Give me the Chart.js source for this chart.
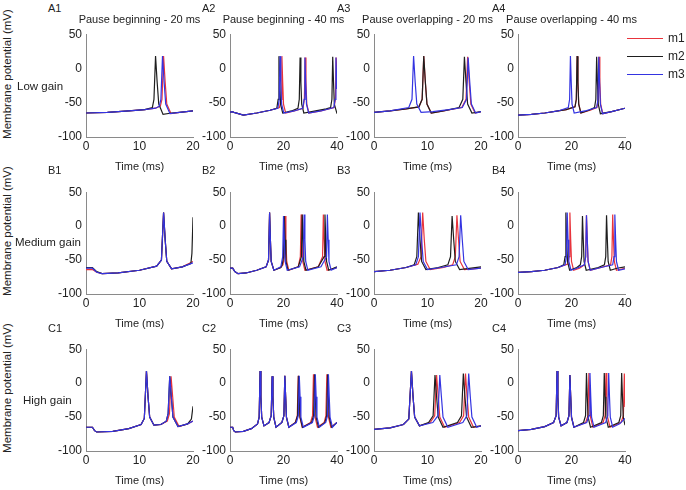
<!DOCTYPE html>
<html>
<head>
<meta charset="utf-8">
<script src="https://cdn.jsdelivr.net/npm/chart.js@4.4.1/dist/chart.umd.min.js"></script>
<style>
  body { margin: 0; background: #fff; }
  #fig { position: relative; width: 686px; height: 490px; font-family: "Liberation Sans", Arial, sans-serif; color: #222; }
  #fig canvas { position: absolute; }
  .txt { position: absolute; white-space: nowrap; font-size: 11px; line-height: 1; }
  .ctr { transform: translate(-50%, -50%); }
  .ylab { transform: translate(-50%, -50%) rotate(-90deg); font-size: 11.5px; }
  .leg { position: absolute; height: 0; border-top: 1px solid; width: 36px; }
</style>
</head>
<body>
<div id="fig"></div>
<script>
// membrane potential traces, [time ms, mV]
var a1_m1 = [[0,-65],[4,-64],[8,-62],[11,-60],[13,-58],[13.9,-55],[14.2,-45],[14.5,18],[14.8,-20],[15.1,-52],[15.9,-66],[17.5,-64],[20,-62]];
var a1_m2 = [[0,-65],[4,-64],[8,-62],[11,-60],[12.4,-57],[12.7,-45],[13.0,18],[13.3,-20],[13.6,-52],[14.4,-67],[16,-65],[17.5,-64],[20,-62]];
var a1_m3 = [[0,-65],[4,-64],[8,-62],[11,-60],[13,-58],[13.7,-55],[14.0,-45],[14.3,18],[14.6,-20],[14.9,-52],[15.7,-66],[17.5,-64],[20,-62]];

var a2_m1 = [[0,-64],[0.7,-63],[1.5,-64],[5,-68],[10,-65],[15,-61],[18.5,-57],[19.1,-45],[19.4,18],[19.7,-20],[20.0,-52],[20.8,-65],[24,-62],[27.3,-58],[27.8,-45],[28.1,16],[28.4,-20],[28.7,-52],[29.5,-65],[34,-62],[38.9,-57],[39.4,-45],[39.7,16],[40,-20]];
var a2_m2 = [[0,-64],[0.7,-63],[1.5,-64],[5,-68],[10,-65],[15,-61],[17.5,-58],[18.0,-45],[18.3,18],[18.6,-20],[18.9,-52],[19.7,-65],[23,-62],[25.4,-58],[25.9,-45],[26.2,16],[26.5,-20],[26.8,-52],[27.6,-65],[32,-62],[36,-59],[37.6,-57],[38.1,-45],[38.4,17],[38.7,-20],[39.0,-52],[40,-66]];
var a2_m3 = [[0,-64],[0.7,-63],[1.5,-64],[5,-68],[10,-65],[15,-61],[17.9,-58],[18.4,-45],[18.7,18],[19.0,-20],[19.3,-52],[20.1,-65],[24,-62],[27.2,-58],[27.7,-45],[28.0,16],[28.3,-20],[28.6,-52],[29.4,-65],[34,-62],[38.8,-57],[39.3,-45],[39.6,16],[39.9,-20],[40,-30]];

var a3_m1 = [[0,-64],[3,-62],[6,-59],[8.4,-56],[9.0,-45],[9.3,18],[9.6,-20],[9.9,-52],[10.7,-65],[13,-62],[16.4,-57],[17.2,-45],[17.5,17],[17.8,-20],[18.1,-52],[18.9,-65],[20,-63]];
var a3_m2 = [[0,-64],[3,-62],[6,-59],[8.4,-56],[9.0,-45],[9.3,18],[9.6,-20],[9.9,-52],[10.7,-65],[13,-62],[15.9,-57],[16.6,-45],[16.9,17],[17.2,-20],[17.5,-52],[18.3,-65],[20,-63]];
var a3_m3 = [[0,-64],[3,-62],[6.5,-57],[7.1,-45],[7.4,18],[7.7,-20],[8.0,-52],[8.8,-64],[11,-63],[14,-60],[16.5,-57],[17.3,-45],[17.6,16],[17.9,-20],[18.2,-52],[19,-65],[20,-63]];

var a4_m1 = [[0,-68],[5,-67],[10,-65],[15,-62],[18,-60],[21.3,-56],[21.8,-45],[22.1,18],[22.4,-20],[22.7,-52],[23.5,-65],[27,-61],[29.5,-57],[30.0,-45],[30.3,17],[30.6,-20],[30.9,-52],[31.7,-66],[35,-63],[40,-58]];
var a4_m2 = [[0,-68],[5,-67],[10,-65],[15,-62],[18,-60],[21.3,-56],[21.8,-45],[22.1,18],[22.4,-20],[22.7,-52],[23.5,-65],[26.5,-61],[28.6,-57],[29.1,-45],[29.4,17],[29.7,-20],[30.0,-52],[30.8,-66],[35,-63],[40,-58]];
var a4_m3 = [[0,-68],[5,-67],[10,-65],[15,-62],[18.8,-57],[19.3,-45],[19.6,18],[19.9,-20],[20.2,-52],[21,-65],[25,-62],[29.4,-57],[29.9,-45],[30.2,17],[30.5,-20],[30.8,-52],[31.6,-66],[35,-63],[40,-58]];

var b1_m1 = [[0,-64],[1.2,-64],[2,-68],[3,-70],[6,-69],[10,-65],[13.2,-59],[14.1,-50],[14.5,20],[14.8,-20],[15.1,-52],[16,-63],[18,-60],[20,-52]];
var b1_m2 = [[0,-61],[1.2,-61],[2,-67],[3,-70],[6,-69],[10,-65],[13.2,-59],[14.1,-50],[14.5,20],[14.8,-20],[15.1,-52],[16,-63],[18,-60],[19.6,-55],[19.8,-40],[20,13]];
var b1_m3 = [[0,-62],[1.2,-62],[2,-68],[3,-70],[6,-69],[10,-65],[13.2,-59],[14.1,-50],[14.5,20],[14.8,-20],[15.1,-52],[16,-63],[18,-60],[20,-54]];

var b2_m1 = [[0,-62],[1,-62],[1.8,-67],[3,-70],[6,-69],[10,-65],[13.5,-60],[14.4,-50],[14.8,20],[15.1,-20],[15.4,-52],[16.4,-65],[19,-61],[19.8,-57],[20.3,-45],[20.6,15],[20.9,-20],[21.2,-52],[22,-65],[25.5,-60],[26.3,-45],[26.6,17],[26.9,-20],[27.2,-52],[28,-65],[33,-60],[34.6,-45],[34.9,17],[35.2,-20],[35.5,-52],[36.3,-65],[40,-61]];
var b2_m2 = [[0,-62],[1,-62],[1.8,-67],[3,-70],[6,-69],[10,-65],[13.5,-60],[14.4,-50],[14.8,20],[15.1,-20],[15.4,-52],[16.4,-65],[19,-61],[19.5,-57],[20.0,-45],[20.3,15],[20.6,-20],[20.9,-52],[21.7,-65],[25.5,-60],[26.7,-45],[27.0,17],[27.3,-20],[27.6,-52],[28.4,-65],[33,-60],[35.2,-45],[35.5,17],[35.8,-20],[36.1,-52],[36.9,-65],[40,-60]];
var b2_m3 = [[0,-62],[1,-62],[1.8,-67],[3,-70],[6,-69],[10,-65],[13.5,-60],[14.4,-50],[14.8,20],[15.1,-20],[15.4,-52],[16.4,-65],[19,-60],[19.7,-45],[20.0,15],[20.3,-20],[20.6,-52],[21.4,-65],[26,-60],[27.4,-45],[27.7,17],[28.0,-20],[28.3,-52],[29.1,-65],[34,-60],[36.1,-45],[36.4,17],[36.7,-20],[37.0,-52],[37.8,-65],[40,-61]];

var b3_m1 = [[0,-67],[3,-65],[6,-61],[8.2,-56],[8.8,-45],[9.1,20],[9.4,-20],[9.7,-52],[10.5,-64],[13,-61],[14.7,-57],[15.2,-45],[15.5,16],[15.8,-20],[16.1,-52],[16.9,-64],[20,-62]];
var b3_m2 = [[0,-67],[3,-65],[6,-61],[7.5,-57],[8.0,-45],[8.3,20],[8.6,-20],[8.9,-52],[9.7,-64],[12,-61],[13.8,-57],[14.3,-45],[14.6,15],[14.9,-20],[15.2,-52],[16,-64],[20,-60]];
var b3_m3 = [[0,-67],[3,-65],[6,-61],[7.8,-57],[8.3,-45],[8.6,20],[8.9,-20],[9.2,-52],[10,-64],[12.5,-61],[15.4,-57],[15.9,-45],[16.2,16],[16.5,-20],[16.8,-52],[17.6,-64],[20,-62]];

var b4_m1 = [[0,-68],[5,-67],[10,-65],[15,-61],[18.6,-56],[19.1,-45],[19.4,20],[19.7,-20],[20,-52],[20.8,-65],[23,-62],[24.8,-57],[25.3,-45],[25.6,16],[25.9,-20],[26.2,-52],[27,-65],[31,-61],[34.6,-57],[35.1,-45],[35.4,17],[35.7,-20],[36,-52],[36.8,-65],[40,-62]];
var b4_m2 = [[0,-68],[5,-67],[10,-65],[15,-61],[17.1,-57],[17.6,-45],[17.9,20],[18.2,-20],[18.5,-52],[19.3,-65],[22,-61],[23.3,-57],[23.8,-45],[24.1,15],[24.4,-20],[24.7,-52],[25.5,-65],[30,-61],[32.3,-57],[32.8,-45],[33.1,16],[33.4,-20],[33.7,-52],[34.5,-65],[37,-62],[40,-60]];
var b4_m3 = [[0,-68],[5,-67],[10,-65],[15,-61],[17.6,-57],[18.1,-45],[18.4,20],[18.7,-20],[19,-52],[19.8,-65],[22,-62],[24.8,-57],[25.3,-45],[25.6,16],[25.9,-20],[26.2,-52],[27,-65],[31,-61],[35.4,-57],[35.9,-45],[36.2,17],[36.5,-20],[36.8,-52],[37.6,-65],[40,-63]];

var c1_m1 = [[0,-65],[1.2,-65],[1.6,-70],[2,-72],[5,-71],[8,-67],[10.3,-61],[10.9,-52],[11.3,18],[11.6,-20],[11.9,-50],[12.7,-62],[14,-61],[15.2,-56],[15.6,-45],[15.9,10],[16.2,-20],[16.5,-50],[17.4,-64],[19,-60],[20,-56]];
var c1_m2 = [[0,-65],[1.2,-65],[1.6,-70],[2,-72],[5,-71],[8,-67],[10.3,-61],[10.9,-52],[11.3,18],[11.6,-20],[11.9,-50],[12.7,-62],[14,-61],[15.0,-56],[15.35,-45],[15.65,10],[15.95,-20],[16.25,-50],[17.2,-64],[19,-60],[19.7,-53],[20,-34]];
var c1_m3 = [[0,-65],[1.2,-65],[1.6,-70],[2,-72],[5,-71],[8,-67],[10.3,-61],[10.9,-52],[11.3,18],[11.6,-20],[11.9,-50],[12.7,-62],[14,-61],[15.0,-56],[15.35,-45],[15.65,10],[15.95,-20],[16.25,-50],[17.2,-64],[19,-60],[20,-56]];

var c2_m1 = [[0,-65],[1,-65],[1.4,-70],[2,-72],[5,-71],[8,-67],[10.3,-60],[10.9,-50],[11.25,18],[11.55,-20],[11.85,-50],[12.7,-63],[14.6,-58],[15.4,-48],[15.75,10],[16.05,-20],[16.35,-50],[17.2,-65],[19.4,-58],[20.15,-48],[20.5,11],[20.8,-20],[21.1,-50],[22,-65],[24.4,-58],[25.15,-48],[25.5,11],[25.8,-20],[26.1,-50],[27,-65],[30.1,-58],[30.85,-48],[31.2,13],[31.5,-20],[31.8,-50],[32.7,-65],[35.2,-58],[35.85,-48],[36.2,13],[36.5,-20],[36.8,-50],[37.7,-65],[40,-58]];
var c2_m2 = [[0,-65],[1,-65],[1.4,-70],[2,-72],[5,-71],[8,-67],[10.3,-60],[10.9,-50],[11.25,18],[11.55,-20],[11.85,-50],[12.7,-63],[14.6,-58],[15.4,-48],[15.75,10],[16.05,-20],[16.35,-50],[17.2,-65],[19.4,-58],[20.15,-48],[20.5,11],[20.8,-20],[21.1,-50],[22,-65],[24.5,-58],[25.25,-48],[25.6,11],[25.9,-20],[26.2,-50],[27.1,-65],[30.5,-58],[31.25,-48],[31.6,13],[31.9,-20],[32.2,-50],[33.1,-65],[35.5,-58],[36.15,-48],[36.5,13],[36.8,-20],[37.1,-50],[38,-65],[40,-58]];
var c2_m3 = [[0,-65],[1,-65],[1.4,-70],[2,-72],[5,-71],[8,-67],[10.3,-60],[10.9,-50],[11.25,18],[11.55,-20],[11.85,-50],[12.7,-63],[14.6,-58],[15.4,-48],[15.75,10],[16.05,-20],[16.35,-50],[17.2,-65],[19.4,-58],[20.15,-48],[20.5,11],[20.8,-20],[21.1,-50],[22,-65],[24.8,-58],[25.55,-48],[25.9,11],[26.2,-20],[26.5,-50],[27.4,-65],[30.8,-58],[31.55,-48],[31.9,13],[32.2,-20],[32.5,-50],[33.4,-65],[35.8,-58],[36.45,-48],[36.8,13],[37.1,-20],[37.4,-50],[38.3,-65],[40,-58]];

var c3_m1 = [[0,-68],[3,-66],[5.5,-61],[6.5,-53],[7.0,18],[7.3,-20],[7.6,-50],[8.5,-63],[10.5,-58],[11.35,-48],[11.7,12],[12.0,-20],[12.3,-50],[13.2,-65],[16.0,-58],[16.75,-48],[17.1,14],[17.4,-20],[17.7,-50],[18.6,-65],[20,-63]];
var c3_m2 = [[0,-68],[3,-66],[5.5,-61],[6.5,-53],[7.0,18],[7.3,-20],[7.6,-50],[8.5,-63],[10.2,-58],[11.05,-48],[11.4,12],[11.7,-20],[12,-50],[12.9,-65],[15.6,-58],[16.35,-48],[16.7,14],[17.0,-20],[17.3,-50],[18.2,-65],[20,-63]];
var c3_m3 = [[0,-68],[3,-66],[5.5,-61],[6.5,-53],[7.0,18],[7.3,-20],[7.6,-50],[8.5,-63],[11.0,-58],[11.95,-48],[12.3,12],[12.6,-20],[12.9,-50],[13.8,-65],[16.6,-58],[17.35,-48],[17.7,14],[18.0,-20],[18.3,-50],[19.2,-65],[20,-63]];

var c4_m1 = [[0,-70],[5,-68],[10,-64],[13.3,-58],[14.25,-48],[14.6,18],[14.9,-20],[15.2,-50],[16.1,-63],[18.3,-58],[19.05,-48],[19.4,12],[19.7,-20],[20,-50],[20.9,-65],[25.3,-58],[26.15,-48],[26.5,15],[26.8,-20],[27.1,-50],[28,-65],[31.8,-58],[32.55,-48],[32.9,15],[33.2,-20],[33.5,-50],[34.4,-65],[38.5,-58],[39.4,-48],[39.75,14],[40,-35]];
var c4_m2 = [[0,-70],[5,-68],[10,-64],[13.3,-58],[14.25,-48],[14.6,18],[14.9,-20],[15.2,-50],[16.1,-63],[18.3,-58],[19.05,-48],[19.4,12],[19.7,-20],[20,-50],[20.9,-65],[24.5,-58],[25.25,-48],[25.6,15],[25.9,-20],[26.2,-50],[27.1,-65],[31.2,-58],[31.9,-48],[32.25,15],[32.55,-20],[32.85,-50],[33.75,-65],[37.7,-58],[38.4,-48],[38.75,15],[39.05,-20],[39.35,-50],[40,-62]];
var c4_m3 = [[0,-70],[5,-68],[10,-64],[13.3,-58],[14.25,-48],[14.6,18],[14.9,-20],[15.2,-50],[16.1,-63],[18.3,-58],[19.05,-48],[19.4,12],[19.7,-20],[20,-50],[20.9,-65],[25.7,-58],[26.55,-48],[26.9,15],[27.2,-20],[27.5,-50],[28.4,-65],[32.8,-58],[33.55,-48],[33.9,15],[34.2,-20],[34.5,-50],[35.4,-65],[38,-60],[40,-52]];

var seriesNames = ['m1', 'm2', 'm3'];
var seriesColors = ['rgb(232,52,60)', 'rgb(30,30,30)', 'rgb(52,52,225)'];
var colTitles = ['Pause beginning - 20 ms', 'Pause beginning - 40 ms', 'Pause overlapping - 20 ms', 'Pause overlapping - 40 ms'];
var rowNames = ['Low gain', 'Medium gain', 'High gain'];
var colMax = [20, 40, 20, 40];
var traces = [
  [[a1_m1, a1_m2, a1_m3], [a2_m1, a2_m2, a2_m3], [a3_m1, a3_m2, a3_m3], [a4_m1, a4_m2, a4_m3]],
  [[b1_m1, b1_m2, b1_m3], [b2_m1, b2_m2, b2_m3], [b3_m1, b3_m2, b3_m3], [b4_m1, b4_m2, b4_m3]],
  [[c1_m1, c1_m2, c1_m3], [c2_m1, c2_m2, c2_m3], [c3_m1, c3_m2, c3_m3], [c4_m1, c4_m2, c4_m3]]
];

// layout (plot areas in page pixels)
var plotLeft = [86, 230, 374, 518];
var plotTop = [33, 191, 348];
var plotH = [104, 103, 103];
var plotW = 107;
var padL = 40, padT = 10, padR = 12, padB = 39;
var AXIS = '#8a8a8a', TXT = '#222';

Chart.defaults.font.family = '"Liberation Sans", Arial, sans-serif';

var fig = document.getElementById('fig');

function addText(str, x, y, cls, extra) {
  var d = document.createElement('div');
  d.className = 'txt ' + (cls || '');
  d.textContent = str;
  d.style.left = x + 'px';
  d.style.top = y + 'px';
  if (extra) Object.assign(d.style, extra);
  fig.appendChild(d);
  return d;
}

for (var r = 0; r < 3; r++) {
  for (var c = 0; c < 4; c++) {
    var cv = document.createElement('canvas');
    var w = padL + plotW + padR, h = padT + plotH[r] + padB;
    cv.width = w; cv.height = h;
    cv.style.left = (plotLeft[c] - padL) + 'px';
    cv.style.top = (plotTop[r] - padT) + 'px';
    cv.style.width = w + 'px'; cv.style.height = h + 'px';
    fig.appendChild(cv);

    var sets = traces[r][c].map(function (d, i) {
      return { label: seriesNames[i], data: d, borderColor: seriesColors[i], order: 3 - i };
    });
    new Chart(cv.getContext('2d'), {
      type: 'line',
      data: { datasets: sets },
      options: {
        responsive: false,
        animation: false,
        events: [],
        layout: { padding: { top: padT, right: padR, left: 0, bottom: 0 } },
        plugins: { legend: { display: false }, tooltip: { enabled: false } },
        elements: { point: { radius: 0 }, line: { borderWidth: 1.2, tension: 0 } },
        scales: {
          x: {
            type: 'linear', min: 0, max: colMax[c],
            grid: { display: false, drawTicks: false },
            border: { color: AXIS },
            ticks: { stepSize: colMax[c] / 2, padding: 2, maxRotation: 0, autoSkip: false, color: TXT, font: { size: 12 } },
            title: { display: true, text: 'Time (ms)', color: TXT, font: { size: 11 }, padding: { top: 0, bottom: 2 } },
            afterFit: function (s) { s.height = padB; }
          },
          y: {
            min: -100, max: 50,
            grid: { display: false, drawTicks: false },
            border: { color: AXIS },
            ticks: { stepSize: 50, padding: 4, color: TXT, font: { size: 12 } },
            afterFit: function (s) { s.width = padL; }
          }
        }
      }
    });
  }
}

// panel labels
var labX = [48, 202, 337, 492];
var labY = [8, 170, 328];
var rowLetters = ['A', 'B', 'C'];
for (var r = 0; r < 3; r++) {
  for (var c = 0; c < 4; c++) {
    addText(rowLetters[r] + (c + 1), labX[c], labY[r], '', { transform: 'translateY(-50%)' });
  }
}
// column titles
for (var c = 0; c < 4; c++) {
  addText(colTitles[c], plotLeft[c] + plotW / 2, 19, 'ctr');
}
// y titles and row names
var yTitleY = [74, 231, 388];
var rowNameX = [17, 15, 23];
var rowNameY = [87, 243, 401];
for (var r = 0; r < 3; r++) {
  addText('Membrane potential (mV)', 8, yTitleY[r], 'ylab');
  addText(rowNames[r], rowNameX[r], rowNameY[r], '', { transform: 'translateY(-50%)', fontSize: '11.5px' });
}
// legend
var legY = [38, 56, 74];
for (var i = 0; i < 3; i++) {
  var l = document.createElement('div');
  l.className = 'leg';
  l.style.left = '627px'; l.style.top = legY[i] + 'px';
  l.style.borderColor = seriesColors[i];
  fig.appendChild(l);
  addText(seriesNames[i], 668, legY[i], '', { transform: 'translateY(-50%)', fontSize: '12px' });
}
</script>
</body>
</html>
